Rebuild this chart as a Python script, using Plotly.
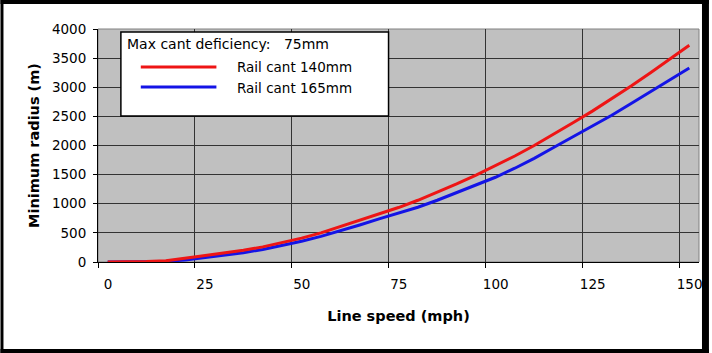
import plotly.graph_objects as go

# ---------------- data ----------------
speed_mph = [0, 5, 10, 15, 20, 25, 30, 35, 40, 45, 50, 55, 60, 65, 70, 75,
             80, 85, 90, 95, 100, 105, 110, 115, 120, 125, 130, 135, 140, 145, 150]
radius_cant_140 = [0, 0, 8, 20, 65, 110, 150, 200, 260, 330, 410, 500, 610, 720, 830, 935,
                   1060, 1195, 1340, 1490, 1650, 1820, 2000, 2190, 2390, 2590, 2800, 3020,
                   3250, 3480, 3720]
radius_cant_165 = [0, 0, 4, 10, 35, 75, 115, 160, 215, 285, 355, 440, 535, 635, 740, 835,
                   940, 1060, 1190, 1320, 1455, 1610, 1780, 1965, 2150, 2330, 2520, 2720,
                   2925, 3125, 3330]
series_names = ["Rail cant 140mm", "Rail cant 165mm"]
legend_title = "Max cant deficiency:\u00a0\u00a0 75mm"
x_tick_labels = ["0", "25", "50", "75", "100", "125", "150"]
x_tick_bounds = [-2.5, 22.5, 47.5, 72.5, 97.5, 122.5, 147.5]
y_ticks = [0, 500, 1000, 1500, 2000, 2500, 3000, 3500, 4000]

# ---------------- layout geometry ----------------
W, H = 712, 353
L, R, T, B = 98, 10, 29, 91
PW, PH = W - L - R, H - T - B


def px_x(px):
    return (px - L) / PW


def px_y(py):
    return (H - B - py) / PH


RED = "#ee1515"
BLUE = "#1414e6"
FONT = "DejaVu Sans"

fig = go.Figure()
fig.add_trace(go.Scatter(x=speed_mph, y=radius_cant_165, mode="lines", name=series_names[1],
                         line=dict(color=BLUE, width=3)))
fig.add_trace(go.Scatter(x=speed_mph, y=radius_cant_140, mode="lines", name=series_names[0],
                         line=dict(color=RED, width=3)))

shapes = []
# plot area border (grey)
shapes.append(dict(type="rect", xref="paper", yref="paper", x0=0, x1=1, y0=0, y1=1,
                   line=dict(color="#808080", width=1), layer="below"))
# legend box
shapes.append(dict(type="rect", xref="paper", yref="paper",
                   x0=px_x(121), x1=px_x(390), y0=px_y(116), y1=px_y(32),
                   line=dict(color="black", width=1.5), fillcolor="white", layer="above"))
# legend samples
shapes.append(dict(type="line", xref="paper", yref="paper",
                   x0=px_x(141), x1=px_x(217), y0=px_y(67), y1=px_y(67),
                   line=dict(color=RED, width=3)))
shapes.append(dict(type="line", xref="paper", yref="paper",
                   x0=px_x(141), x1=px_x(217), y0=px_y(87), y1=px_y(87),
                   line=dict(color=BLUE, width=3)))
# figure frame (black border with heavier right/bottom)
for (a, b, c, d) in [(0, 3, 0, H), (0, W, 0, 4), (705, W, 0, H), (0, W, 349, H)]:
    shapes.append(dict(type="rect", xref="paper", yref="paper",
                       x0=px_x(a), x1=px_x(b), y0=px_y(d), y1=px_y(c),
                       line=dict(width=0), fillcolor="black", layer="above"))

annotations = [
    dict(text=legend_title, xref="paper", yref="paper", x=px_x(125), y=px_y(44),
         xanchor="left", yanchor="middle", showarrow=False,
         font=dict(family=FONT, size=14, color="black")),
    dict(text=series_names[0], xref="paper", yref="paper", x=px_x(236), y=px_y(67),
         xanchor="left", yanchor="middle", showarrow=False,
         font=dict(family=FONT, size=13.5, color="black")),
    dict(text=series_names[1], xref="paper", yref="paper", x=px_x(236), y=px_y(88),
         xanchor="left", yanchor="middle", showarrow=False,
         font=dict(family=FONT, size=13.5, color="black")),
]

fig.update_layout(
    width=W, height=H,
    margin=dict(l=L, r=R, t=T, b=B, pad=0),
    paper_bgcolor="white",
    plot_bgcolor="#c0c0c0",
    showlegend=False,
    shapes=shapes,
    annotations=annotations,
    font=dict(family=FONT, size=13.5, color="black"),
    xaxis=dict(
        range=[-2.5, 152.5], tickmode="array", tickvals=x_tick_bounds, ticktext=x_tick_labels,
        ticklabelshift=10, ticks="outside", ticklen=5, tickcolor="black",
        ticklabelstandoff=5,
        showgrid=True, gridcolor="#333333", gridwidth=1, zeroline=False,
        showline=True, linecolor="black", linewidth=1,
        tickfont=dict(family=FONT, size=13.5, color="black"),
        title=dict(text="<b>Line speed (mph)</b>", standoff=19,
                   font=dict(family=FONT, size=14.5, color="black")),
    ),
    yaxis=dict(
        range=[0, 4000], tickmode="array", tickvals=y_ticks,
        ticks="outside", ticklen=4, tickcolor="black", ticklabelstandoff=4,
        showgrid=True, gridcolor="#333333", gridwidth=1, zeroline=False,
        showline=True, linecolor="black", linewidth=1,
        tickfont=dict(family=FONT, size=13.5, color="black"),
        title=dict(text="<b>Minimum radius (m)</b>", standoff=8,
                   font=dict(family=FONT, size=14.5, color="black")),
    ),
)

fig.write_html("out.html")
